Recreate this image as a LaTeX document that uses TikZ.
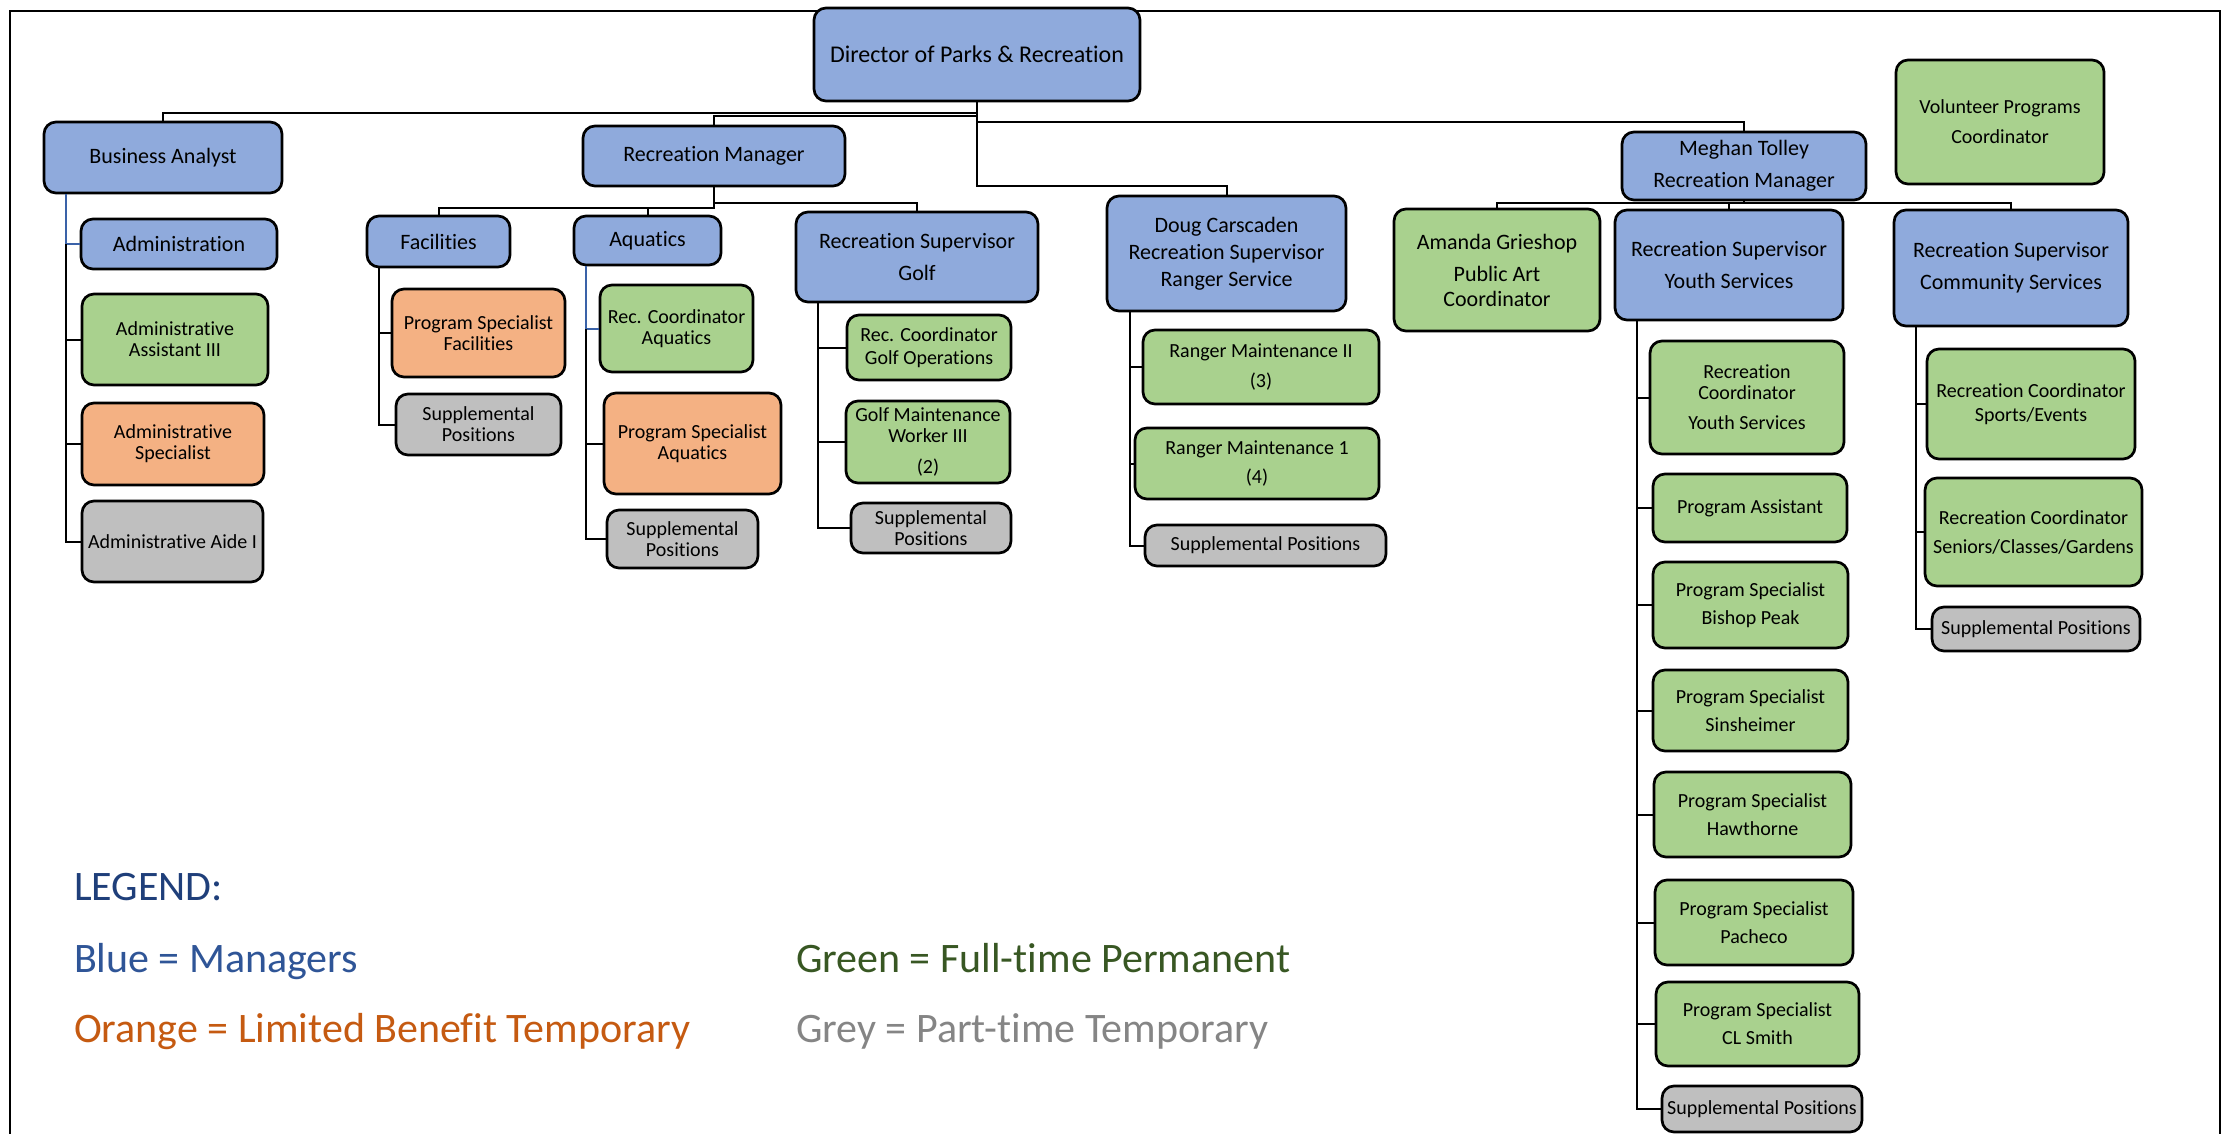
\documentclass[tikz,border=0pt]{standalone}
\usepackage{fontspec}
\setmainfont{Carlito}[Ligatures=CommonOff]

\definecolor{mgrfill}{HTML}{8FAADC}
\definecolor{permfill}{HTML}{A9D18E}
\definecolor{tempfill}{HTML}{F4B183}
\definecolor{partfill}{HTML}{BFBFBF}
\definecolor{linkblue}{HTML}{3A62A8}
\definecolor{legtitle}{HTML}{1F3F7A}
\definecolor{legblue}{HTML}{2F5597}
\definecolor{legorange}{HTML}{C55A11}
\definecolor{leggreen}{HTML}{385723}
\definecolor{leggrey}{HTML}{858585}

\tikzset{
  box/.style={draw=black, line width=2.7pt, rounded corners=12pt, align=center, inner sep=1pt, text=black},
  sz/.style 2 args={minimum width=#1pt, minimum height=#2pt},
  mgr/.style={box, fill=mgrfill, font=\fontsize{22}{32}\selectfont},
  perm/.style={box, fill=permfill, font=\fontsize{20}{21}\selectfont},
  temp/.style={box, fill=tempfill, font=\fontsize{20}{21}\selectfont},
  part/.style={box, fill=partfill, font=\fontsize{20}{21}\selectfont},
  big/.style={font=\fontsize{22}{32}\selectfont},
  leg/.style={anchor=base west, inner sep=0pt, font=\fontsize{42}{50}\selectfont}
}

\begin{document}
\begin{tikzpicture}[x=1pt, y=-1pt, line width=2pt]
        \useasboundingbox (0,0) rectangle (2234,1134);
        \draw (10,1140) -- (10,11) -- (2220,11) -- (2220,1140);

        % top level
        \node[mgr, sz={326}{93}, font=\fontsize{24}{30}\selectfont] (dir) at (977,54.5) {Director of Parks \& Recreation};
        \node[mgr, sz={238}{71}] (ba) at (163,157.5) {Business Analyst};
        \node[mgr, sz={262}{60}] (rm) at (714,156) {Recreation Manager};
        \node[mgr, sz={244}{68}] (mt) at (1744,166) {Meghan Tolley\\Recreation Manager};
        \node[mgr, sz={239}{115}] (doug) at (1226.5,253.5) {Doug Carscaden\\[-5pt]Recreation Supervisor\\[-5pt]Ranger Service};
        \node[perm, sz={208}{124}] (vol) at (2000,122) {Volunteer Programs\\[9pt]Coordinator};

        % business analyst
        \node[mgr, sz={196}{50}] (adm) at (179,244) {Administration};
        \node[perm, sz={186}{91}] (aa3) at (175,339.5) {Administrative\\Assistant III};
        \node[temp, sz={182}{82}] (aspec) at (173,444) {Administrative\\Specialist};
        \node[part, sz={181}{81}] (aide) at (172.5,541.5) {Administrative Aide I};

        % recreation manager
        \node[mgr, sz={143}{51}] (fac) at (438.5,241.5) {Facilities};
        \node[temp, sz={173}{88}] (psfac) at (478.5,333) {Program Specialist\\Facilities};
        \node[part, sz={165}{61}] (supfac) at (478.5,424.5) {Supplemental\\Positions};

        \node[mgr, sz={147}{49}] (aq) at (647.5,240.5) {Aquatics};
        \node[perm, sz={153}{87}] (rcaq) at (676.5,328.5) {Rec. Coordinator\\Aquatics};
        \node[temp, sz={177}{101}] (psaq) at (692.5,443.5) {Program Specialist\\Aquatics};
        \node[part, sz={151}{58}] (supaq) at (682.5,539) {Supplemental\\Positions};

        \node[mgr, sz={242}{90}] (golf) at (917,257) {Recreation Supervisor\\Golf};
        \node[perm, sz={164}{65}] (rcgolf) at (929,347.5) {Rec. Coordinator\\[2pt]Golf Operations};
        \node[perm, sz={164}{82}] (gmw) at (928,442) {Golf Maintenance\\Worker III\\[10pt](2)};
        \node[part, sz={160}{50}] (supgolf) at (931,528) {Supplemental\\Positions};

        % ranger service
        \node[perm, sz={236}{74}] (rm2) at (1261,367) {Ranger Maintenance II\\[8.5pt](3)};
        \node[perm, sz={244}{71}] (rm1) at (1257,463.5) {Ranger Maintenance 1\\[8.5pt](4)};
        \node[part, sz={241}{41}] (supranger) at (1265.5,545.5) {Supplemental Positions};

        % meghan tolley
        \node[perm, big, sz={206}{122}] (art) at (1497,270) {Amanda Grieshop\\Public Art\\[-7pt]Coordinator};
        \node[mgr, sz={228}{110}] (youth) at (1729,265) {Recreation Supervisor\\Youth Services};
        \node[mgr, sz={234}{116}] (comm) at (2011,268) {Recreation Supervisor\\Community Services};

        \node[perm, sz={194}{113}] (rcyouth) at (1747,397.5) {Recreation\\Coordinator\\[9pt]Youth Services};
        \node[perm, sz={194}{68}] (pa) at (1750,508) {Program Assistant};
        \node[perm, sz={195}{86}] (psbp) at (1750.5,605) {Program Specialist\\[7pt]Bishop Peak};
        \node[perm, sz={195}{81}] (pssin) at (1750.5,710.5) {Program Specialist\\[7pt]Sinsheimer};
        \node[perm, sz={197}{85}] (pshaw) at (1752.5,814.5) {Program Specialist\\[7pt]Hawthorne};
        \node[perm, sz={198}{85}] (pspach) at (1754,922.5) {Program Specialist\\[7pt]Pacheco};
        \node[perm, sz={203}{84}] (pscl) at (1757.5,1024) {Program Specialist\\[7pt]CL Smith};
        \node[part, sz={200}{46}] (supyouth) at (1762,1109) {Supplemental Positions};

        \node[perm, sz={208}{110}] (rcsports) at (2031,404) {Recreation Coordinator\\[3pt]Sports/Events};
        \node[perm, sz={217}{108}] (rcsen) at (2033.5,532) {Recreation Coordinator\\[8pt]Seniors/Classes/Gardens};
        \node[part, sz={208}{44}] (supcomm) at (2036,629) {Supplemental Positions};

        % connectors
        \draw (dir.south) -- ++(0,11) -| (ba.north)
              (dir.south) -- ++(0,14) -| (rm.north)
              (dir.south) -- ++(0,20) -| (mt.north)
              (dir.south) -- ++(0,84) -| (doug.north);
        \draw (rm.south) -- ++(0,21) -| (fac.north)
              (rm.south) ++(0,21) -| (aq.north)
              (rm.south) -- ++(0,16) -| (golf.north);
        \draw (mt.south) -- ++(0,2) -| (art.north)
              (mt.south) ++(0,2) -| (youth.north)
              (mt.south) ++(0,2) -| (comm.north);

        \coordinate (bacol) at ([xshift=23.5pt]ba.south west);
        \draw[linkblue] (bacol) |- (adm.west);
        \draw (bacol |- adm.west) |- (aide.west)
              (bacol |- aa3.west) -- (aa3.west)
              (bacol |- aspec.west) -- (aspec.west);

        \coordinate (faccol) at ([xshift=13pt]fac.south west);
        \draw (faccol) |- (supfac.west) (faccol |- psfac.west) -- (psfac.west);

        \coordinate (aqcol) at ([xshift=13pt]aq.south west);
        \draw[linkblue] (aqcol) |- (rcaq.west);
        \draw (aqcol |- rcaq.west) |- (supaq.west) (aqcol |- psaq.west) -- (psaq.west);

        \coordinate (golfcol) at ([xshift=23pt]golf.south west);
        \draw (golfcol) |- (supgolf.west)
              (golfcol |- rcgolf.west) -- (rcgolf.west)
              (golfcol |- gmw.west) -- (gmw.west);

        \coordinate (rangcol) at ([xshift=24pt]doug.south west);
        \draw (rangcol) |- (supranger.west)
              (rangcol |- rm2.west) -- (rm2.west)
              (rangcol |- rm1.west) -- (rm1.west);

        \coordinate (youthcol) at ([xshift=23pt]youth.south west);
        \draw (youthcol) |- (supyouth.west)
              (youthcol |- rcyouth.west) -- (rcyouth.west)
              (youthcol |- pa.west) -- (pa.west)
              (youthcol |- psbp.west) -- (psbp.west)
              (youthcol |- pssin.west) -- (pssin.west)
              (youthcol |- pshaw.west) -- (pshaw.west)
              (youthcol |- pspach.west) -- (pspach.west)
              (youthcol |- pscl.west) -- (pscl.west);

        \coordinate (commcol) at ([xshift=23pt]comm.south west);
        \draw (commcol) |- (supcomm.west)
              (commcol |- rcsports.west) -- (rcsports.west)
              (commcol |- rcsen.west) -- (rcsen.west);

        % legend
        \node[leg, text=legtitle] (legend) at (73,900) {LEGEND:};
        \node[leg, text=legblue] (legmgr) at (73,972) {Blue = Managers};
        \node[leg, text=legorange] (legtemp) at (73,1042) {Orange = Limited Benefit Temporary};
        \node[leg, text=leggreen] (legperm) at (795,972) {Green = Full-time Permanent};
        \node[leg, text=leggrey] (legpart) at (795,1042) {Grey = Part-time Temporary};
\end{tikzpicture}
\end{document}
